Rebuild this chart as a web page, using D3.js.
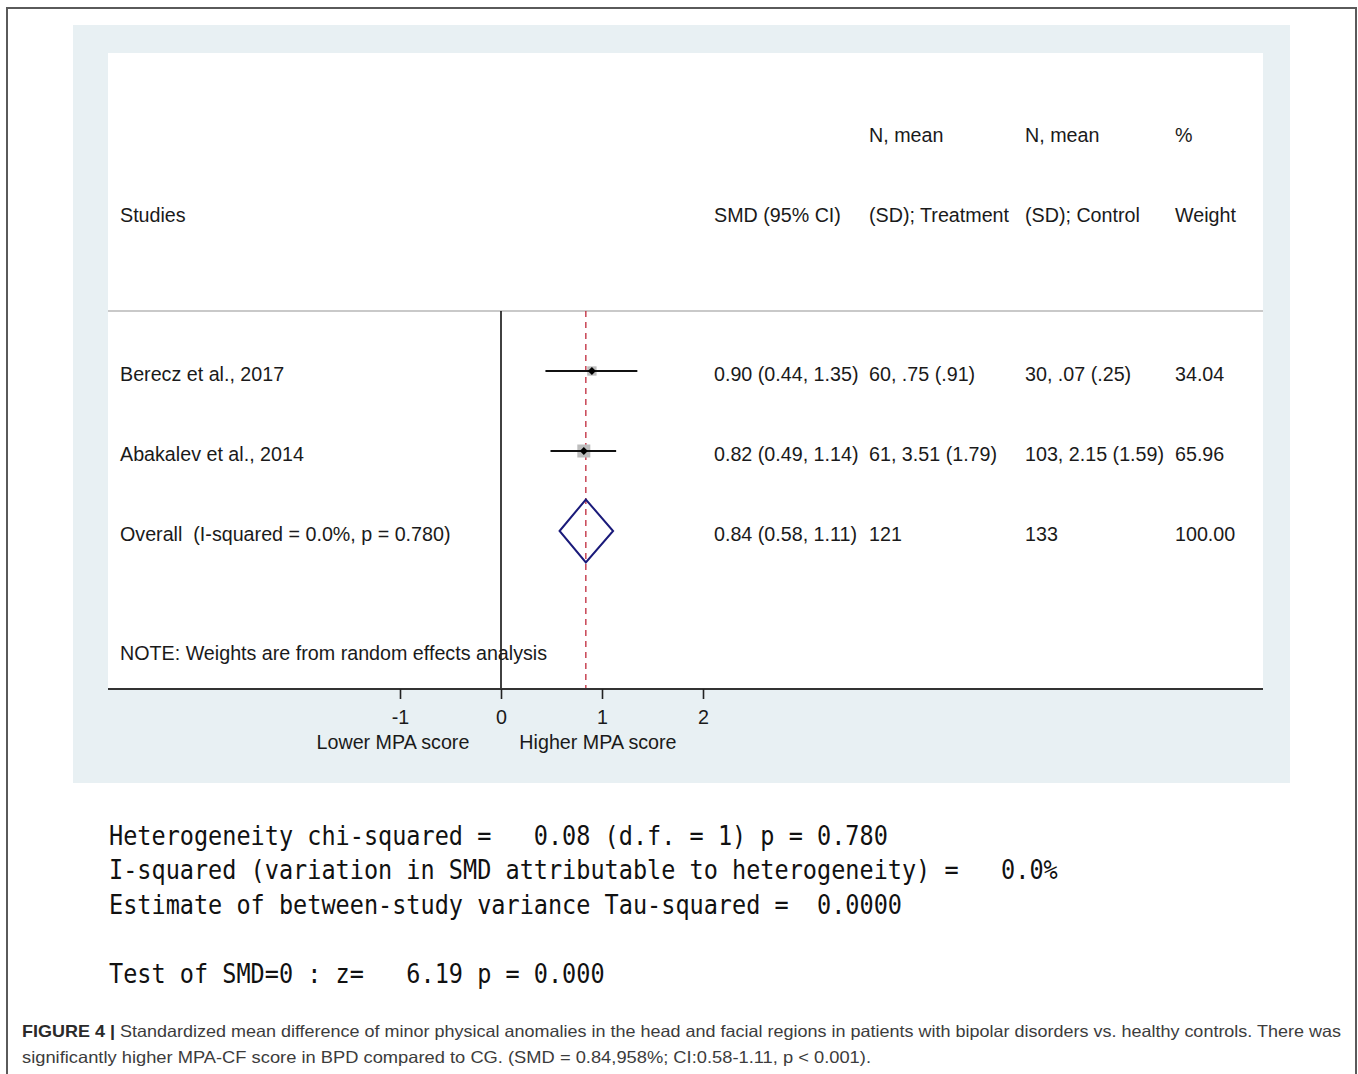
<!DOCTYPE html>
<html>
<head>
<meta charset="utf-8">
<script src="https://cdn.jsdelivr.net/npm/d3@7"></script>
<style>
  html, body { margin: 0; padding: 0; background: #fff; }
  svg { display: block; }
  .sans { font-family: "Liberation Sans", Arial, Helvetica, sans-serif; }
  .mono { font-family: "DejaVu Sans Mono", monospace; }
</style>
</head>
<body>
<svg id="chart" width="1358" height="1074"></svg>
<script>
// Study-level results
const studies   = ["Berecz et al., 2017", "Abakalev et al., 2014"];
const smd       = [0.90, 0.82];
const ciLow     = [0.44, 0.49];
const ciHigh    = [1.35, 1.14];
const weights   = [34.04, 65.96];
const treatment = ["60, .75 (.91)", "61, 3.51 (1.79)"];
const control   = ["30, .07 (.25)", "103, 2.15 (1.59)"];

// Pooled (random effects) estimate
const overallLabel   = "Overall  (I-squared = 0.0%, p = 0.780)";
const overallSmd     = 0.84;
const overallLow     = 0.58;
const overallHigh    = 1.11;
const overallTreat   = "121";
const overallControl = "133";
const overallWeight  = "100.00";

const axisTicks  = [-1, 0, 1, 2];
const axisLabels = [{ at: -1.07, text: "Lower MPA score" }, { at: 0.96, text: "Higher MPA score" }];

const statsLines = [
  "Heterogeneity chi-squared =   0.08 (d.f. = 1) p = 0.780",
  "I-squared (variation in SMD attributable to heterogeneity) =   0.0%",
  "Estimate of between-study variance Tau-squared =  0.0000",
  "",
  "Test of SMD=0 : z=   6.19 p = 0.000"
];

const captionBold = "FIGURE 4 |";
const captionLine1 = " Standardized mean difference of minor physical anomalies in the head and facial regions in patients with bipolar disorders vs. healthy controls. There was";
const captionLine2 = "significantly higher MPA-CF score in BPD compared to CG. (SMD = 0.84,958%; CI:0.58-1.11, p < 0.001).";

const svg = d3.select("#chart");

// Outer figure frame (open at the bottom)
svg.append("path")
  .attr("d", "M7,1074 V8 H1356 V1074")
  .attr("fill", "none").attr("stroke", "#5a5a5a").attr("stroke-width", 2);

// Graph region and plot region
svg.append("rect").attr("x", 73).attr("y", 25).attr("width", 1217).attr("height", 758).attr("fill", "#e8f0f3");
svg.append("rect").attr("x", 108).attr("y", 53).attr("width", 1155).attr("height", 636).attr("fill", "#ffffff");

const x = d3.scaleLinear().domain([-1, 2]).range([400, 703]);
const y = d3.scalePoint().domain([0, 1, 2]).range([371, 531]);

const plotTop = 311, plotBottom = 689;
const fs = 19.7;

// Header separator
svg.append("line").attr("x1", 108).attr("x2", 1263).attr("y1", plotTop).attr("y2", plotTop)
  .attr("stroke", "#c9c9c9").attr("stroke-width", 2);

// Column headers
const cols = { study: 120, smd: 714, treat: 869, ctrl: 1025, wt: 1175 };
const head = svg.append("g").attr("class", "sans").attr("font-size", fs).attr("fill", "#1a1a1a");
[["N, mean", cols.treat], ["N, mean", cols.ctrl], ["%", cols.wt]].forEach(([t, cx]) =>
  head.append("text").attr("x", cx).attr("y", 142).text(t));
[["Studies", cols.study], ["SMD (95% CI)", cols.smd], ["(SD); Treatment", cols.treat],
 ["(SD); Control", cols.ctrl], ["Weight", cols.wt]].forEach(([t, cx]) =>
  head.append("text").attr("x", cx).attr("y", 222).text(t));

// Null line
svg.append("line").attr("x1", x(0)).attr("x2", x(0)).attr("y1", plotTop).attr("y2", plotBottom)
  .attr("stroke", "#111").attr("stroke-width", 1.6);

// Pooled estimate reference line
svg.append("line").attr("x1", x(overallSmd)).attr("x2", x(overallSmd)).attr("y1", plotTop).attr("y2", plotBottom)
  .attr("stroke", "#c0283a").attr("stroke-width", 1.3).attr("stroke-dasharray", "6,5");

// Weight boxes: area proportional to weight
const maxBox = 13;
const boxSide = w => maxBox * Math.sqrt(w / d3.max(weights));
const rows = svg.append("g");
studies.forEach((s, i) => {
  const cy = y(i), side = boxSide(weights[i]);
  rows.append("rect")
    .attr("x", x(smd[i]) - side / 2).attr("y", cy - side / 2)
    .attr("width", side).attr("height", side).attr("fill", "#bdbdbd");
  rows.append("line").attr("x1", x(ciLow[i])).attr("x2", x(ciHigh[i])).attr("y1", cy).attr("y2", cy)
    .attr("stroke", "#111").attr("stroke-width", 2);
  const d = 4;
  rows.append("path")
    .attr("d", `M${x(smd[i])},${cy - d} L${x(smd[i]) + d},${cy} L${x(smd[i])},${cy + d} L${x(smd[i]) - d},${cy} Z`)
    .attr("fill", "#000");
});

// Overall diamond
const dy = y(2), dh = 31.5;
svg.append("path")
  .attr("d", `M${x(overallLow)},${dy} L${x(overallSmd)},${dy - dh} L${x(overallHigh)},${dy} L${x(overallSmd)},${dy + dh} Z`)
  .attr("fill", "none").attr("stroke", "#1a1a7a").attr("stroke-width", 2);

// Row text
const fmt = d3.format(".2f");
const rowText = svg.append("g").attr("class", "sans").attr("font-size", fs).attr("fill", "#1a1a1a");
studies.forEach((s, i) => {
  const by = y(i) + 10;
  rowText.append("text").attr("x", cols.study).attr("y", by).text(s);
  rowText.append("text").attr("x", cols.smd).attr("y", by)
    .text(`${fmt(smd[i])} (${fmt(ciLow[i])}, ${fmt(ciHigh[i])})`);
  rowText.append("text").attr("x", cols.treat).attr("y", by).text(treatment[i]);
  rowText.append("text").attr("x", cols.ctrl).attr("y", by).text(control[i]);
  rowText.append("text").attr("x", cols.wt).attr("y", by).text(fmt(weights[i]));
});
{
  const by = y(2) + 10;
  rowText.append("text").attr("x", cols.study).attr("y", by).attr("xml:space", "preserve").style("white-space", "pre").text(overallLabel);
  rowText.append("text").attr("x", cols.smd).attr("y", by)
    .text(`${fmt(overallSmd)} (${fmt(overallLow)}, ${fmt(overallHigh)})`);
  rowText.append("text").attr("x", cols.treat).attr("y", by).text(overallTreat);
  rowText.append("text").attr("x", cols.ctrl).attr("y", by).text(overallControl);
  rowText.append("text").attr("x", cols.wt).attr("y", by).text(overallWeight);
}
rowText.append("text").attr("x", cols.study).attr("y", 660).text("NOTE: Weights are from random effects analysis");

// X axis
svg.append("line").attr("x1", 108).attr("x2", 1263).attr("y1", plotBottom).attr("y2", plotBottom)
  .attr("stroke", "#333").attr("stroke-width", 2);
const axisG = svg.append("g").attr("transform", `translate(0,${plotBottom})`)
  .call(d3.axisBottom(x).tickValues(axisTicks).tickSize(10).tickPadding(11).tickFormat(d => String(d)));
axisG.select(".domain").remove();
axisG.selectAll(".tick line").attr("stroke", "#222").attr("stroke-width", 1.6);
axisG.selectAll(".tick text").attr("font-size", fs).attr("fill", "#1a1a1a")
  .attr("font-family", "Liberation Sans, Arial, sans-serif");
svg.append("g").attr("class", "sans").attr("font-size", fs).attr("fill", "#1a1a1a")
  .selectAll("text").data(axisLabels).join("text")
  .attr("x", d => x(d.at)).attr("y", 749).attr("text-anchor", "middle").text(d => d.text);

// Heterogeneity statistics (monospaced output)
const charW = 14.16;
svg.append("g").attr("class", "mono").attr("font-size", 27).attr("fill", "#111")
  .selectAll("text").data(statsLines.map((t, i) => ({ t, i })).filter(d => d.t.length))
  .join("text")
  .attr("x", 109).attr("y", d => 845 + d.i * 34.4)
  .attr("xml:space", "preserve").style("white-space", "pre")
  .attr("textLength", d => d.t.length * charW).attr("lengthAdjust", "spacingAndGlyphs")
  .text(d => d.t);

// Caption
const cap = svg.append("g").attr("class", "sans").attr("font-size", 16.5).attr("fill", "#3c3c3c");
const c1 = cap.append("text").attr("x", 22).attr("y", 1037)
  .attr("textLength", 1319).attr("lengthAdjust", "spacingAndGlyphs");
c1.append("tspan").attr("font-weight", "bold").attr("fill", "#2a2a2a").text(captionBold);
c1.append("tspan").text(captionLine1);
cap.append("text").attr("x", 22).attr("y", 1063)
  .attr("textLength", 849).attr("lengthAdjust", "spacingAndGlyphs").text(captionLine2);
</script>
</body>
</html>
